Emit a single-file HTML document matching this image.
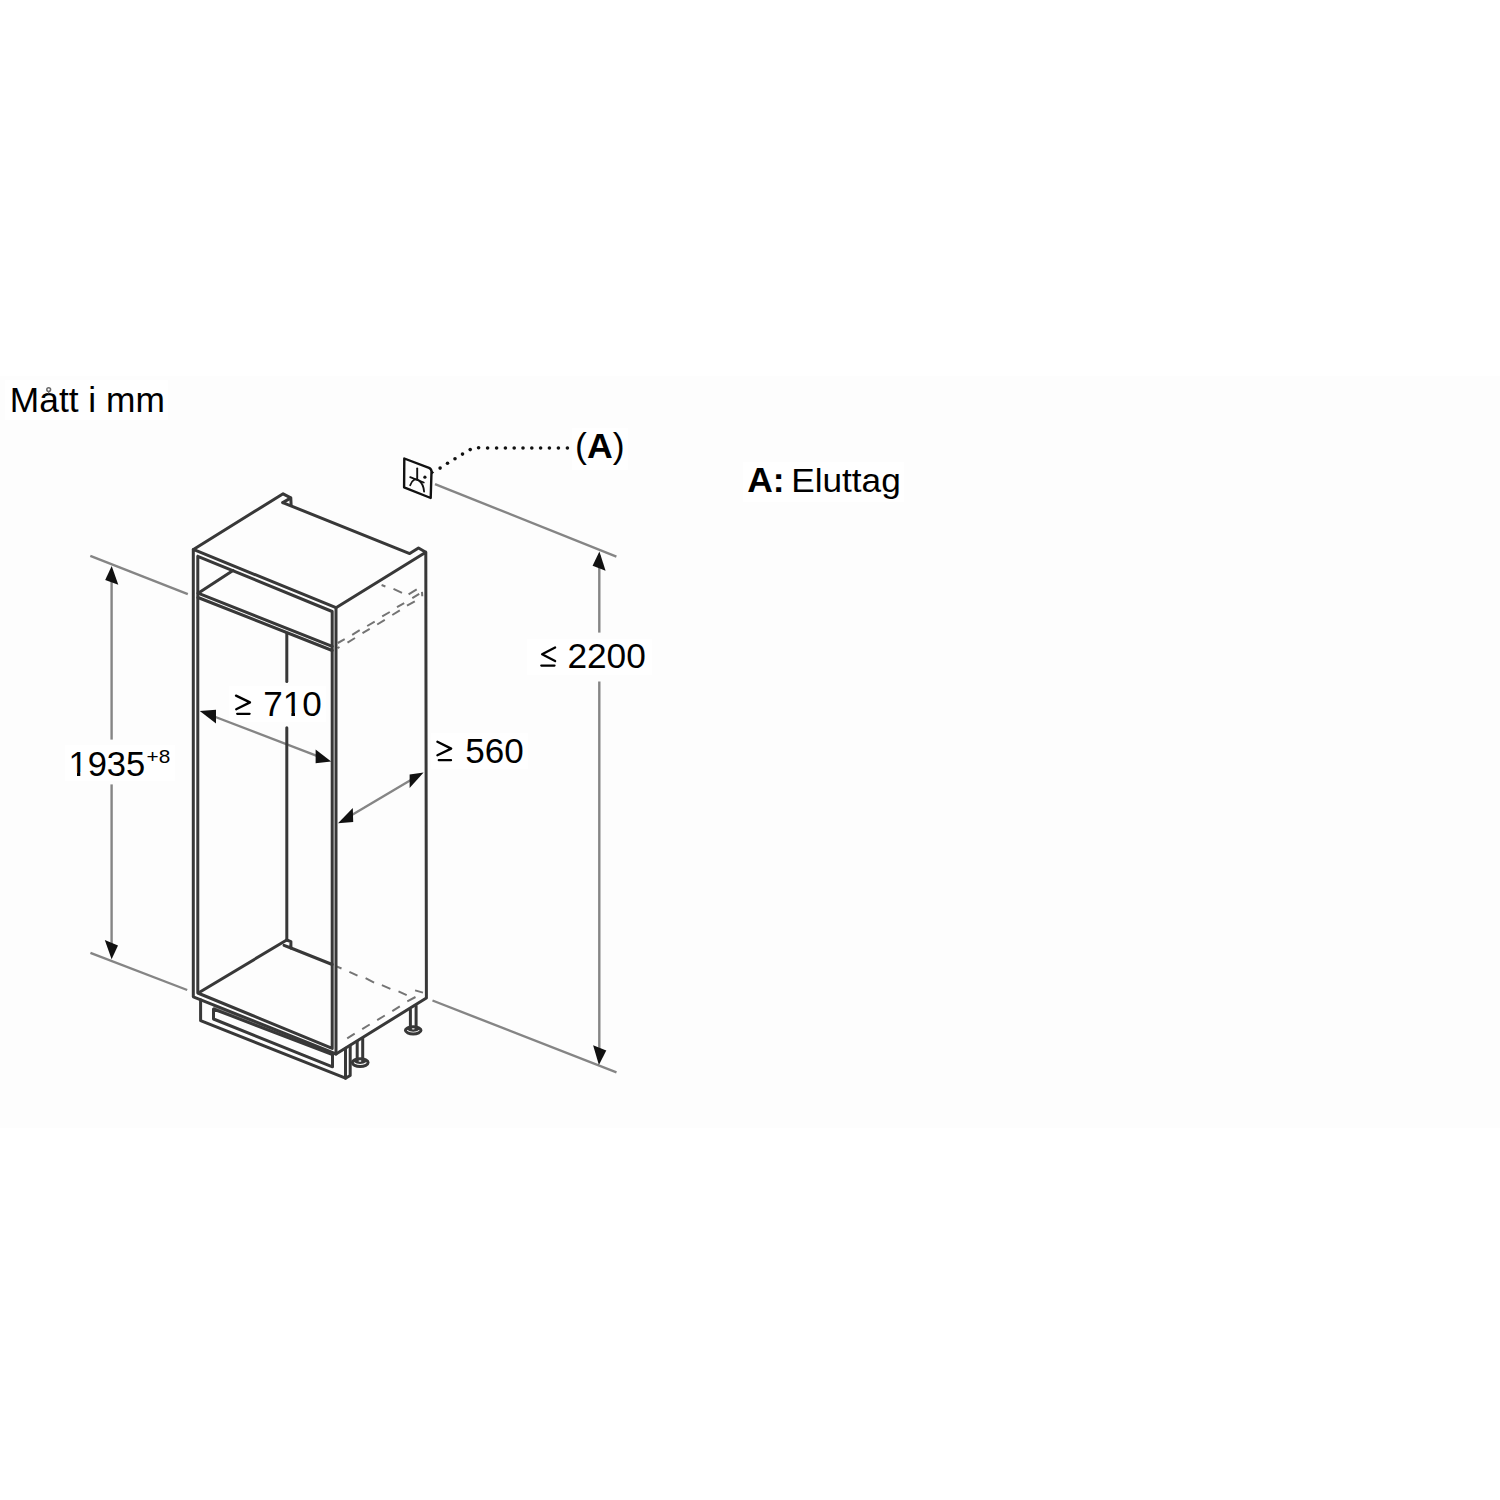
<!DOCTYPE html>
<html><head><meta charset="utf-8"><title>Mått i mm</title>
<style>
html,body{margin:0;padding:0;background:#fff;width:1500px;height:1500px;overflow:hidden}
svg{position:absolute;left:0;top:0;display:block}
text{font-family:"Liberation Sans",sans-serif;fill:#000}
</style></head><body>
<svg width="1500" height="1500" viewBox="0 0 1500 1500">
<rect width="1500" height="1500" fill="#fff"/>
<rect x="0" y="376" width="1500" height="752" fill="#fdfdfd"/>
<g fill="#fff"><rect x="5" y="380" width="163" height="40"/><rect x="572" y="428" width="56" height="42"/><rect x="743" y="462" width="161" height="40"/><rect x="527" y="639" width="125" height="36"/><rect x="229" y="686" width="97" height="36"/><rect x="431" y="733" width="97" height="36"/><rect x="65" y="745" width="110" height="36"/></g>
<defs>
<clipPath id="k1"><path clip-rule="evenodd" d="M0,0H1500V1500H0Z M69.5,772.4H77V776.4H69.5Z M80.3,772.4H87V776.4H80.3Z"/></clipPath>
<clipPath id="k2"><path clip-rule="evenodd" d="M0,0H1500V1500H0Z M283,712.4H291.4V716.4H283Z M295,712.4H302V716.4H295Z"/></clipPath>
<clipPath id="k3"><path clip-rule="evenodd" d="M0,0H1500V1500H0Z M42,380H57V392.4H42Z"/></clipPath>
</defs>
<text x="9.85" y="412.1" font-size="35.37" textLength="155.05" lengthAdjust="spacingAndGlyphs" clip-path="url(#k3)">Mått i mm</text>
<text x="575.1" y="458.1" font-size="34.5" textLength="49.57" lengthAdjust="spacingAndGlyphs">(<tspan font-weight="bold">A</tspan>)</text>
<text x="747.15" y="492.1" font-size="34.96" font-weight="bold" textLength="37.37" lengthAdjust="spacingAndGlyphs">A:</text>
<text x="791.2" y="492.1" font-size="34.09" textLength="109.59" lengthAdjust="spacingAndGlyphs">Eluttag</text>
<text x="567.4" y="667.95" font-size="35" textLength="78.48" lengthAdjust="spacingAndGlyphs">2200</text>
<text x="263.25" y="716.3" font-size="35" textLength="58.56" lengthAdjust="spacingAndGlyphs" clip-path="url(#k2)">710</text>
<text x="465.15" y="762.95" font-size="35" textLength="58.51" lengthAdjust="spacingAndGlyphs">560</text>
<text x="68.45" y="775.65" font-size="35.94" textLength="76.83" lengthAdjust="spacingAndGlyphs" clip-path="url(#k1)">1935</text>
<text x="146.5" y="762.75" font-size="18.1" textLength="23.69" lengthAdjust="spacingAndGlyphs">+8</text>
<!-- dimension lines (gray) -->
<g stroke="#858585" stroke-width="2.4" fill="none">
  <line x1="90.3" y1="555.9" x2="187.8" y2="594.1"/>
  <line x1="90.4" y1="952.8" x2="187.2" y2="990"/>
  <line x1="111.6" y1="570" x2="111.6" y2="739.6"/>
  <line x1="111.6" y1="784.4" x2="111.6" y2="955"/>
  <line x1="435" y1="484.1" x2="616.4" y2="556.6"/>
  <line x1="432.5" y1="1000.5" x2="616.5" y2="1072.4"/>
  <line x1="599.3" y1="555" x2="599.3" y2="632.6"/>
  <line x1="599.3" y1="681.4" x2="599.3" y2="1060"/>
</g>

<g stroke="#858585" stroke-width="2.4" fill="none">
  <line x1="205" y1="713" x2="326" y2="759.4"/>
  <line x1="343" y1="820.2" x2="418" y2="775.7"/>
</g>
<g fill="#111" stroke="none">
  <polygon points="111.7,566.1 105.2,580.1 118.3,584.8"/>
  <polygon points="111.6,959.2 104.8,940 118,945.6"/>
  <polygon points="599.4,551.5 592.6,565.7 605.6,570.8"/>
  <polygon points="598.9,1065.1 593.1,1045.3 606.3,1050.4"/>
  <polygon points="199.8,711 216,709.8 216,723.6"/>
  <polygon points="331.2,761.4 315.6,749.4 315.6,763.2"/>
  <polygon points="338,823.2 352.8,808 353.2,822"/>
  <polygon points="423.6,772.4 409.6,774.4 409.6,788"/>
</g>

<!-- dashed hidden lines -->
<g stroke="#747474" stroke-width="2" fill="none" stroke-linecap="butt">
  <path d="M381.6,585 L385.4,586.5 M393.5,588.8 L402,592.8"/>
  <path d="M408.6,594.4 L416.7,589.4"/>
  <path d="M337.8,643 L344.7,639.2 M352.2,634.8 L359.7,630.1 M367.2,626 L374.7,621.7 M382.2,616.3 L389.8,612 M397,607.2 L404.2,603.2 M412.3,598.2 L419.2,593.8"/>
  <path d="M337.5,648.2 L339.5,647 M347.5,642.6 L355,638 M362.5,633.2 L369.7,628.9 M377.2,624.5 L384.8,619.8 M392.3,615 L399.8,610.4 M407,605.7 L414.8,601.3"/>
  <path d="M422,591.9 L422.3,596.3"/>
  <path d="M336.5,966.3 L341.5,968.5 M349.4,971.9 L357.5,975.7 M365.6,978.2 L374.1,982.6 M381.9,985.1 L390.4,988.8 M398.5,991.3 L406.7,995.1"/>
  <path d="M415.1,990.4 L423,992.6"/>
  <path d="M415.5,997 L407.3,1001.4 M399.8,1006.4 L392.3,1011.1 M384.8,1015.5 L377.2,1020.2 M369.7,1024.5 L362.2,1029.2 M354.7,1033.6 L347.2,1038.3"/>
</g>

<!-- gray band above vent slot -->
<polygon points="213.5,1004.9 332.5,1052.5 332.5,1054.6 213.5,1009" fill="#9a9a9a"/>
<!-- cabinet main lines -->
<g stroke="#383838" stroke-width="3" fill="none" stroke-linejoin="round" stroke-linecap="round">
  <!-- top outer -->
  <polyline points="193.4,549.4 283.1,493.8 290.8,497.8 291.1,504.7"/>
  <polyline points="282.8,502.6 290.5,498.1"/>
  <polyline points="282.8,502.6 409.7,553.6 418.5,548 425.8,552.2 426.4,998 336,1054 193.3,996.8 193.3,549.4 336,607.7 425.8,552.2"/>
  <line x1="336" y1="607.7" x2="336" y2="1054"/>
  <!-- inner frame -->
  <polyline points="197.8,556.3 332.2,611.5 332.2,1048.4 197.8,993 197.8,556.3"/>
  <!-- shelf -->
  <line x1="198.5" y1="593" x2="233" y2="570.6"/>
  <line x1="198" y1="593.2" x2="332.2" y2="646.3"/>
  <line x1="198" y1="597.5" x2="332.2" y2="650.5"/>
  <!-- back vertical -->
  <line x1="286.8" y1="633.5" x2="286.8" y2="681.6"/>
  <line x1="286.8" y1="727.8" x2="286.8" y2="940"/>
  <!-- floor -->
  <line x1="198.7" y1="992.8" x2="286.7" y2="940"/>
  <polyline points="286.7,940 290.9,941.6 290.9,948 284,945.3"/>
  <line x1="290.9" y1="948" x2="332.2" y2="964.5"/>
  <!-- plinth -->
  <polyline points="200.6,999.8 200.6,1020.7 345.5,1078.2 345.5,1048.2"/>
  <polyline points="345.5,1078.2 350.2,1075.5 350.2,1045.3"/>
  <polygon points="213.5,1009 332.5,1054.6 332.5,1066.8 213.5,1019"/>
  <!-- legs -->
  <line x1="357.2" y1="1041.5" x2="357.2" y2="1061.5"/>
  <line x1="362.7" y1="1038.5" x2="362.7" y2="1061.5"/>
  <ellipse cx="360.2" cy="1062.6" rx="7.9" ry="3.8"/>
  <path d="M354,1060.9 Q360.1,1065 366.2,1060.9" stroke-width="2.2"/>
  <line x1="410.4" y1="1009.5" x2="410.4" y2="1029.5"/>
  <line x1="416.1" y1="1006" x2="416.1" y2="1029.5"/>
  <ellipse cx="413.2" cy="1030.3" rx="7.8" ry="3.6"/>
  <path d="M407.2,1028.5 Q413.3,1032.6 419.2,1028.5" stroke-width="2.2"/>
</g>

<!-- socket -->
<g stroke="#111" stroke-width="2.4" fill="none" stroke-linejoin="round" stroke-linecap="round">
  <path d="M404.3,458.5 L429,467.8 Q431.5,469 431.5,471.5 L430.7,498 L404.1,487.3 Z"/>
  <line x1="417.2" y1="468.4" x2="417.2" y2="478.8" stroke-width="1.9"/>
  <line x1="410.2" y1="477.2" x2="423.8" y2="482.5" stroke-width="1.8"/>
  <path d="M410.2,485.2 Q413,477 419,480.5 Q423.5,484 424.1,491.6" stroke-width="1.8"/>
</g>
<circle cx="424.9" cy="477.2" r="1.6" fill="#111"/>
<polygon points="430.6,469.6 434.2,472.6 431.6,474.6" fill="#111"/>
<g fill="#111">
  <circle cx="440.1" cy="468.1" r="1.8"/>
  <circle cx="447.5" cy="463.3" r="1.8"/>
  <circle cx="455" cy="458.8" r="1.8"/>
  <circle cx="462.5" cy="454.1" r="1.8"/>
  <circle cx="470.2" cy="449.6" r="1.8"/>
  <circle cx="478.6" cy="447.8" r="1.8"/>
  <circle cx="487.6" cy="448" r="1.8"/>
  <circle cx="496.6" cy="448" r="1.8"/>
  <circle cx="505.4" cy="448" r="1.8"/>
  <circle cx="514.2" cy="448" r="1.8"/>
  <circle cx="523" cy="448" r="1.8"/>
  <circle cx="531.8" cy="448" r="1.8"/>
  <circle cx="540.6" cy="448" r="1.8"/>
  <circle cx="549.4" cy="448" r="1.8"/>
  <circle cx="558.4" cy="448" r="1.8"/>
  <circle cx="567.4" cy="448" r="1.8"/>
</g>
<!-- relation glyphs -->
<g stroke="#000" stroke-width="2.3" fill="none" stroke-linecap="round" stroke-linejoin="round">
  <path d="M555.1,647.5 L542.1,654.3 L555.1,661.1 M541.3,665.6 L554.5,665.6"/>
  <path d="M236,695.6 L250,702.4 L236.2,709.2 M237.2,713.8 L249.6,713.8"/>
  <path d="M437.4,741.8 L451.2,748.6 L437.4,755.2 M438.8,760.2 L451,760.2"/>
</g>
<!-- small ring of å -->
<circle cx="48.7" cy="389.6" r="1.9" fill="none" stroke="#6a6a6a" stroke-width="1.5"/>
<line x1="48.7" y1="391.4" x2="48.7" y2="393.6" stroke="#777" stroke-width="1.4"/>
</svg>
</body></html>
